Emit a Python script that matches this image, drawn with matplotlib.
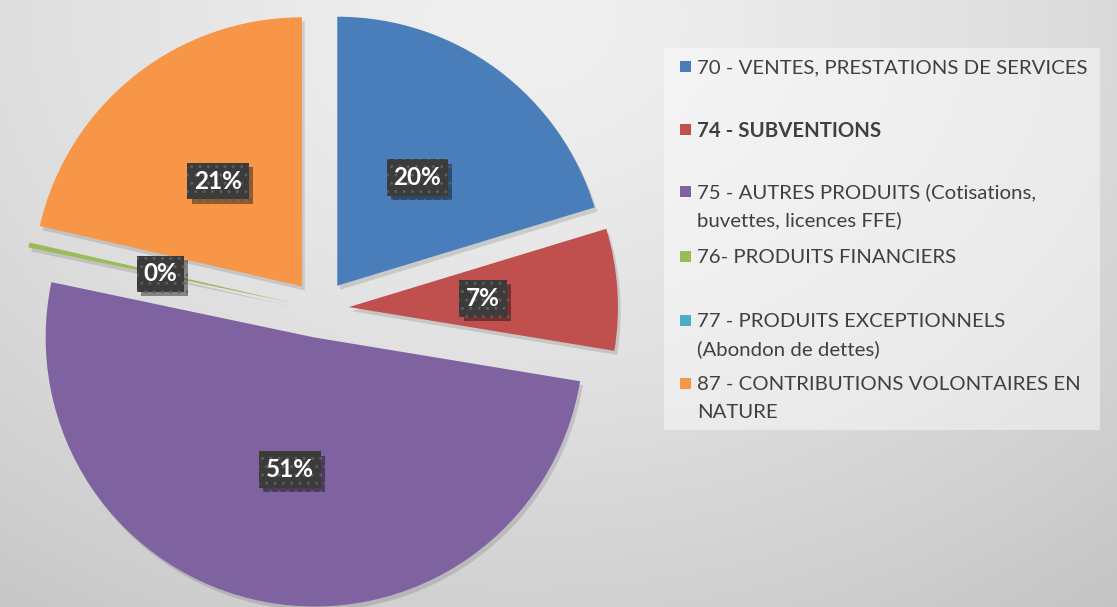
import numpy as np
import matplotlib
matplotlib.use("Agg")
import matplotlib.pyplot as plt
import matplotlib.patheffects as pe
from matplotlib.patches import Rectangle

# ---------------- data ----------------
categories = [
    "70 - VENTES, PRESTATIONS DE SERVICES",
    "74 - SUBVENTIONS",
    "75 - AUTRES PRODUITS (Cotisations,\nbuvettes, licences FFE)",
    "76- PRODUITS FINANCIERS",
    "77 - PRODUITS EXCEPTIONNELS\n(Abondon de dettes)",
    "87 - CONTRIBUTIONS VOLONTAIRES EN\nNATURE",
]
shares = [20.3, 7.3, 50.7, 0.3, 0.0, 21.4]
colors = ["#4a7ebb", "#c0504d", "#7f63a1", "#9bbb59", "#4bacc6", "#f79646"]
bold_entries = [False, True, False, False, False, False]

# ---------------- layout ----------------
W, H = 1117, 607
FONT = "Lato"
fig = plt.figure(figsize=(W / 100, H / 100), dpi=100)
ax = fig.add_axes([0, 0, 1, 1])

# background radial gradient
yy, xx = np.mgrid[0:H, 0:W]
d = np.sqrt(((xx - 520) / 1.3) ** 2 + (yy - 20) ** 2)
v = 0.94 - 0.17 * (d / 745.0) ** 1.4
v = np.clip(v, 0.74, 0.96)
bg = np.dstack([v, v, v])
ax.imshow(bg, extent=[0, W, 0, H], origin="upper", zorder=0, aspect="auto")

# pie
pie_center = (320, H - 309)
pie_radius = 269
explode_px = 29
wedges, _ = ax.pie(
    shares, colors=colors, startangle=90, counterclock=False,
    center=pie_center, radius=pie_radius,
    explode=[explode_px] * len(shares),
    wedgeprops=dict(linewidth=0, zorder=2),
)
for w in wedges:
    w.set_path_effects([pe.SimplePatchShadow(offset=(2, -3), shadow_rgbFace="black", alpha=0.12),
                        pe.Normal()])
ax.set_xlim(0, W)
ax.set_ylim(0, H)
ax.set_aspect("equal")
ax.axis("off")

renderer = fig.canvas.get_renderer()

# fit percentage label font size
probe = ax.text(0, 0, "20%", fontsize=17, family=FONT, weight="bold")
w17 = probe.get_window_extent(renderer).width
probe.remove()
pct_fs = 17 * 48.0 / w17

for w, s in zip(wedges, shares):
    if s <= 0:
        continue
    th = np.deg2rad((w.theta1 + w.theta2) / 2.0)
    cx, cy = w.center
    x = cx + 0.5 * pie_radius * np.cos(th)
    y = cy + 0.5 * pie_radius * np.sin(th)
    txt = f"{round(s):.0f}%"
    t = ax.text(x, y, txt, ha="center", va="center", fontsize=pct_fs,
                family=FONT, weight="bold", color="white",
                bbox=dict(boxstyle="square,pad=0.28", facecolor="#3b3b3b",
                          edgecolor="#5c5c5c", linewidth=0, hatch=".."),
                zorder=5)
    t.get_bbox_patch().set_path_effects(
        [pe.SimplePatchShadow(offset=(3, -3), shadow_rgbFace="black", alpha=0.4),
         pe.Normal()])

# legend (manual, Excel-like)
legend_box = (664, 48, 1100, 430)  # x0, y0(top), x1, y1(bottom) in image px
ax.add_patch(Rectangle((legend_box[0], H - legend_box[3]),
                       legend_box[2] - legend_box[0],
                       legend_box[3] - legend_box[1],
                       facecolor="white", alpha=0.45, edgecolor="none", zorder=3))

probe = ax.text(0, 0, categories[0], fontsize=16, family=FONT)
w16 = probe.get_window_extent(renderer).width
probe.remove()
leg_fs = 16 * 390.0 / w16

first_line_y = [66, 129, 191, 256, 320, 383]
line_step = 28
for lab, col, b, y0 in zip(categories, colors, bold_entries, first_line_y):
    ax.add_patch(Rectangle((680, H - y0 - 5.5), 11, 11, facecolor=col,
                           edgecolor="none", zorder=4))
    for i, line in enumerate(lab.split("\n")):
        ax.text(697, H - (y0 + i * line_step), line, ha="left", va="center_baseline",
                fontsize=leg_fs, family=FONT, color="#404040",
                weight="bold" if b else "normal", zorder=5)

fig.savefig("out.png", dpi=100)
